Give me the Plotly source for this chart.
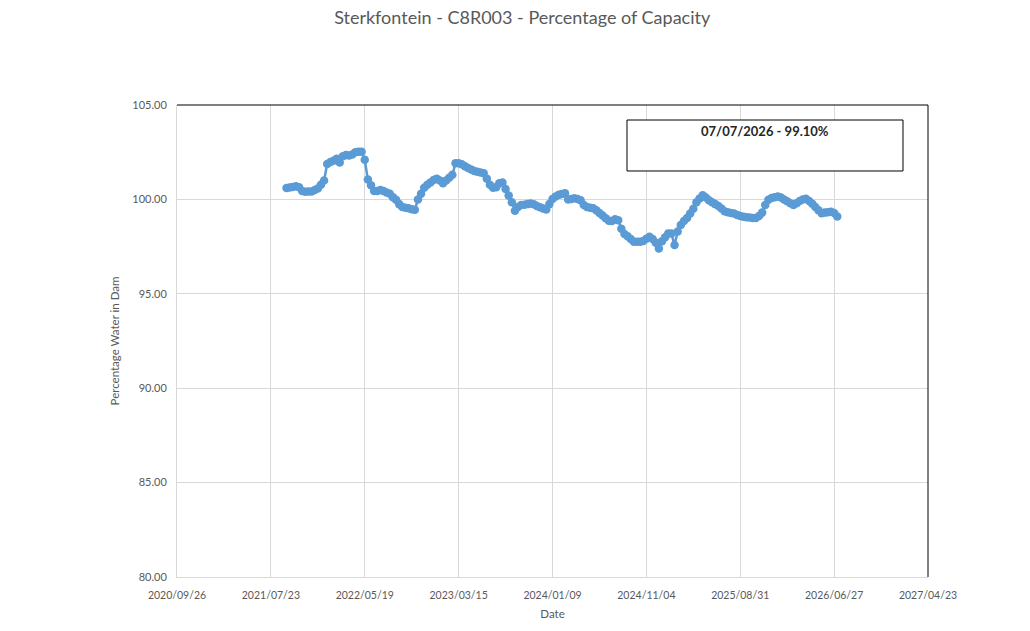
import pandas as pd
import plotly.graph_objects as go

# ---- data ----
end_date = "2026-07-07"
step = "10D"
values = [
    100.60, 100.63, 100.66, 100.70, 100.65, 100.45, 100.40, 100.42, 100.42, 100.50,
    100.58, 100.78, 101.00, 101.88, 101.98, 102.05, 102.15, 101.95, 102.28, 102.35,
    102.33, 102.38, 102.50, 102.53, 102.52, 102.10, 101.05, 100.75, 100.45, 100.45,
    100.50, 100.45, 100.36, 100.30, 100.12, 99.98, 99.75, 99.60, 99.56, 99.53,
    99.48, 99.45, 100.00, 100.30, 100.62, 100.78, 100.90, 101.03, 101.10, 101.00,
    100.86, 101.00, 101.15, 101.30, 101.91, 101.92, 101.86, 101.75, 101.66, 101.58,
    101.50, 101.46, 101.43, 101.39, 101.10, 100.78, 100.62, 100.65, 100.85, 100.90,
    100.55, 100.20, 99.85, 99.40, 99.60, 99.70, 99.72, 99.75, 99.78, 99.74,
    99.65, 99.58, 99.52, 99.46, 99.75, 100.02, 100.15, 100.24, 100.28, 100.32,
    100.00, 100.02, 100.06, 100.02, 99.95, 99.70, 99.60, 99.56, 99.53, 99.42,
    99.28, 99.15, 99.00, 98.87, 98.85, 98.95, 98.90, 98.45, 98.17, 98.05,
    97.90, 97.76, 97.76, 97.76, 97.80, 97.92, 98.02, 97.90, 97.70, 97.40,
    97.78, 98.00, 98.20, 98.20, 97.58, 98.30, 98.65, 98.85, 99.02, 99.25,
    99.50, 99.85, 100.05, 100.22, 100.10, 99.95, 99.85, 99.75, 99.65, 99.52,
    99.37, 99.32, 99.28, 99.25, 99.18, 99.12, 99.08, 99.06, 99.04, 99.02,
    99.02, 99.12, 99.30, 99.70, 99.98, 100.08, 100.12, 100.15, 100.10, 100.00,
    99.90, 99.80, 99.70, 99.80, 99.92, 100.00, 100.04, 99.92, 99.77, 99.60,
    99.42, 99.27, 99.30, 99.32, 99.34, 99.28, 99.10,
]
dates = pd.date_range(end=end_date, periods=len(values), freq=step)

tick_dates = ["2020-09-26", "2021-07-23", "2022-05-19", "2023-03-15", "2024-01-09",
              "2024-11-04", "2025-08-31", "2026-06-27", "2027-04-23"]
tick_labels = ["2020/09/26", "2021/07/23", "2022/05/19", "2023/03/15", "2024/01/09",
               "2024/11/04", "2025/08/31", "2026/06/27", "2027/04/23"]
y_ticks = [80, 85, 90, 95, 100, 105]

title_text = "Sterkfontein - C8R003 - Percentage of Capacity"
x_title = "Date"
y_title = "Percentage Water in Dam"
last_label = f"{dates[-1]:%d/%m/%Y} - {values[-1]:.2f}%"

# ---- figure ----
blue = "#5b9bd5"
grid = "#d9d9d9"
fam = "Lato, Carlito, sans-serif"
tick_font = dict(family=fam, size=10.5, color="#595959")

fig = go.Figure()
fig.add_trace(go.Scatter(
    x=dates, y=values, mode="lines+markers",
    line=dict(color=blue, width=2.5),
    marker=dict(color=blue, size=8.5),
    showlegend=False, hoverinfo="x+y",
))

fig.update_layout(
    width=1030, height=631,
    margin=dict(l=177, r=102, t=105, b=54),
    paper_bgcolor="white", plot_bgcolor="white",
    title=dict(text=title_text, x=0.507, xanchor="center", y=0.972, yanchor="middle",
               font=dict(family=fam, size=18, color="#595959")),
    showlegend=False,
)
fig.update_xaxes(
    type="date", range=[tick_dates[0], tick_dates[-1]],
    tickvals=tick_dates, ticktext=tick_labels,
    showgrid=True, gridcolor=grid, gridwidth=1,
    showline=True, linecolor=grid, linewidth=1,
    ticks="outside", ticklen=8, tickcolor="rgba(0,0,0,0)",
    tickfont=tick_font, zeroline=False,
    title=dict(text=x_title, font=dict(family=fam, size=11.5, color="#595959"), standoff=10),
)
fig.update_yaxes(
    range=[80, 105], tickvals=y_ticks, tickformat=".2f",
    showgrid=True, gridcolor=grid, gridwidth=1,
    showline=True, linecolor=grid, linewidth=1,
    ticks="outside", ticklen=7, tickcolor="rgba(0,0,0,0)",
    tickfont=dict(family=fam, size=11, color="#595959"), zeroline=False,
    title=dict(text=y_title, font=dict(family=fam, size=11.5, color="#595959"), standoff=10),
)

# frame: top and right edges black
fig.add_shape(type="line", xref="paper", yref="paper", x0=0, x1=1, y0=1, y1=1,
              line=dict(color="black", width=1))
fig.add_shape(type="line", xref="paper", yref="paper", x0=1, x1=1, y0=0, y1=1,
              line=dict(color="black", width=1))

# annotation box
fig.add_shape(type="rect", xref="paper", yref="paper", x0=0.5992, x1=0.9667, y0=0.8602, y1=0.9682,
              line=dict(color="black", width=1), fillcolor="white", layer="above")
fig.add_annotation(text=f"<b>{last_label}</b>", xref="paper", yref="paper", x=0.783, y=0.9449,
                   showarrow=False, xanchor="center", yanchor="middle",
                   font=dict(family=fam, size=13, color="#262626"))

fig.write_html("out.html")
